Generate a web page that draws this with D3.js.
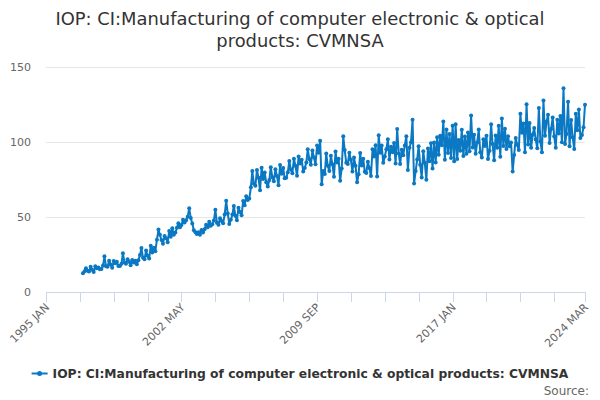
<!DOCTYPE html>
<html>
<head>
<meta charset="utf-8">
<script src="https://cdn.jsdelivr.net/npm/d3@7"></script>
<style>
  body { margin: 0; background: #fff; }
  svg { font-family: "DejaVu Sans", sans-serif; }
</style>
</head>
<body>
<svg id="chart" width="600" height="400"></svg>
<script>
// monthly values, 1997 JAN .. 2024 MAR
const startYear = 1997;
const values = [
  12.5, 13.8, 15.9, 14.2, 13.6, 16.8, 14.9, 13.4, 17.2, 15.8, 16.4, 15.1,
  15.3, 17.6, 23.8, 17.2, 16.8, 20.9, 18.4, 16.2, 20.6, 19.1, 20.2, 17.4,
  17.4, 18.9, 25.8, 19.6, 18.9, 21.8, 20.1, 17.8, 21.4, 19.6, 20.8, 18.5,
  21.2, 24.6, 29.4, 22.8, 21.9, 27.6, 24.1, 22.3, 30.8, 26.4, 29.5, 27.2,
  34.8, 41.6, 38.2, 34.6, 32.1, 37.4, 35.9, 33.2, 40.6, 36.8, 42.5, 38.1,
  39.6, 42.8, 45.9, 43.2, 44.6, 48.1, 46.3, 47.9, 50.2, 55.8, 49.4, 45.6,
  41.2, 39.8, 38.6, 39.9, 38.2, 41.4, 39.6, 41.8, 44.9, 43.1, 46.8, 44.2,
  45.1, 47.6, 54.8, 46.2, 44.9, 49.1, 47.3, 45.8, 51.6, 60.8, 52.4, 45.3,
  48.2, 51.6, 57.4, 50.8, 47.9, 56.2, 53.4, 51.1, 60.6, 57.8, 63.9, 61.4,
  62.4, 69.8, 80.6, 72.1, 70.8, 81.4, 76.2, 67.8, 82.9, 75.4, 79.6, 73.1,
  70.3, 74.6, 83.2, 76.5, 73.9, 81.8, 77.4, 71.2, 84.6, 78.9, 82.7, 75.8,
  76.1, 79.8, 87.4, 81.6, 79.2, 88.9, 84.1, 77.5, 90.3, 85.6, 88.2, 80.4,
  82.7, 86.4, 95.1, 88.6, 84.9, 94.3, 89.7, 85.2, 97.6, 92.8, 100.9, 71.8,
  80.6, 78.6, 92.4, 84.1, 80.7, 90.8, 85.2, 76.9, 93.6, 86.4, 88.9, 74.2,
  82.3, 103.8, 94.6, 86.2, 85.4, 92.8, 88.1, 80.4, 89.6, 84.2, 73.1, 78.5,
  92.6, 84.3, 88.8, 80.2, 79.4, 86.9, 82.6, 77.3, 95.1, 90.4, 97.8, 77.0,
  104.5, 92.8, 97.6, 86.1, 90.4, 95.2, 101.8, 88.4, 96.9, 93.1, 99.4, 85.6,
  108.6, 92.4, 85.3, 94.8, 91.2, 97.6, 103.9, 81.4, 96.2, 99.8, 114.8, 72.3,
  80.6, 88.4, 97.2, 84.9, 76.3, 93.8, 86.1, 74.8, 95.6, 87.2, 99.1, 82.4,
  99.6, 86.4, 103.2, 91.5, 104.1, 97.8, 113.6, 88.2, 108.4, 92.6, 105.3, 89.4,
  110.8, 87.2, 111.9, 88.6, 101.4, 94.2, 108.1, 90.6, 103.7, 92.1, 106.4, 93.8,
  117.6, 96.4, 104.8, 92.1, 99.6, 108.3, 93.2, 89.6, 101.8, 97.4, 104.2, 88.7,
  94.2, 111.8, 98.6, 87.9, 104.3, 96.1, 110.8, 90.2, 115.6, 97.3, 108.9, 95.4,
  103.8, 97.2, 99.6, 80.3, 91.4, 102.7, 98.1, 94.6, 118.9, 106.2, 112.4, 93.1,
  125.2, 98.4, 112.6, 96.1, 104.8, 109.3, 101.6, 95.8, 122.7, 100.4, 93.2, 127.6,
  104.1, 113.6, 118.2, 99.4, 108.7, 116.3, 103.8, 96.2, 114.9, 105.6, 117.4, 99.8,
  135.8, 98.6, 105.4, 126.9, 97.2, 114.6, 103.1, 95.4, 118.8, 107.9, 121.6, 102.7,
  104.6, 109.8, 124.9
];
const yTicks = [0, 50, 100, 150];
const xLabels = ["1995 JAN", "2002 MAY", "2009 SEP", "2017 JAN", "2024 MAR"];
const title = ["IOP: CI:Manufacturing of computer electronic & optical", "products: CVMNSA"];
const seriesName = "IOP: CI:Manufacturing of computer electronic & optical products: CVMNSA";

const color = "#0a78c2";
const data = values.map((v, i) => ({ date: new Date(startYear, i, 1), v }));

const svg = d3.select("#chart");
const plotLeft = 46, plotRight = 585, plotTop = 67, plotBottom = 292;

const x = d3.scaleTime()
  .domain([new Date(1995, 0, 1), new Date(2024, 2, 1)])
  .range([plotLeft, plotRight]);
const y = d3.scaleLinear().domain([0, 150]).range([plotBottom, plotTop]);

svg.append("g").selectAll("text")
  .data(title).enter().append("text")
  .attr("x", 300).attr("y", (d, i) => 25 + i * 22)
  .attr("text-anchor", "middle")
  .attr("font-size", 17.9).attr("fill", "#333")
  .text(d => d);

// grid + y labels
svg.append("g").selectAll("line")
  .data(yTicks.filter(d => d > 0)).enter().append("line")
  .attr("x1", plotLeft).attr("x2", plotRight)
  .attr("y1", d => y(d) + 0.5).attr("y2", d => y(d) + 0.5)
  .attr("stroke", "#e6e6e6");

svg.append("g").selectAll("text")
  .data(yTicks).enter().append("text")
  .attr("x", 31).attr("y", d => y(d) + 4)
  .attr("text-anchor", "end")
  .attr("font-size", 11).attr("fill", "#666")
  .text(d => d);

// x axis: a tick every 22 months, labels every 4th, plus the end
const tickDates = d3.range(0, 16).map(k => new Date(1995, k * 22, 1));
tickDates.push(new Date(2024, 2, 1));
const labelDates = tickDates.filter((d, i) => i % 4 === 0);

const xAxis = svg.append("g").attr("transform", `translate(0,${plotBottom})`);
xAxis.append("line")
  .attr("x1", plotLeft).attr("x2", plotRight + 1)
  .attr("y1", 0.5).attr("y2", 0.5)
  .attr("stroke", "#ccd6eb");
xAxis.selectAll("line.tick")
  .data(tickDates).enter().append("line")
  .attr("class", "tick")
  .attr("x1", d => Math.round(x(d)) + 0.5).attr("x2", d => Math.round(x(d)) + 0.5)
  .attr("y1", 0).attr("y2", 10)
  .attr("stroke", "#ccd6eb");
xAxis.selectAll("text")
  .data(labelDates).enter().append("text")
  .attr("transform", d => `translate(${x(d) + 4},${16}) rotate(-45)`)
  .attr("text-anchor", "end")
  .attr("font-size", 11).attr("fill", "#666")
  .text((d, i) => xLabels[i]);

// series
const line = d3.line().x(d => x(d.date)).y(d => y(d.v));
svg.append("path")
  .datum(data)
  .attr("fill", "none")
  .attr("stroke", color)
  .attr("stroke-width", 2)
  .attr("stroke-linejoin", "round")
  .attr("d", line);
svg.append("g").selectAll("circle")
  .data(data).enter().append("circle")
  .attr("cx", d => x(d.date)).attr("cy", d => y(d.v))
  .attr("r", 2)
  .attr("fill", color);

// legend
const legend = svg.append("g");
const legendText = legend.append("text")
  .attr("y", 378)
  .attr("font-size", 12.3).attr("font-weight", "bold").attr("fill", "#333")
  .text(seriesName);
const tw = legendText.node().getComputedTextLength();
const lx = 300 - (tw + 21) / 2;
legendText.attr("x", lx + 21);
legend.append("line")
  .attr("x1", lx).attr("x2", lx + 16)
  .attr("y1", 373.5).attr("y2", 373.5)
  .attr("stroke", color).attr("stroke-width", 2);
legend.append("circle")
  .attr("cx", lx + 8).attr("cy", 373.5).attr("r", 2.5).attr("fill", color);

svg.append("text")
  .attr("x", 589).attr("y", 395)
  .attr("text-anchor", "end")
  .attr("font-size", 12).attr("fill", "#666")
  .text("Source:");
</script>
</body>
</html>
